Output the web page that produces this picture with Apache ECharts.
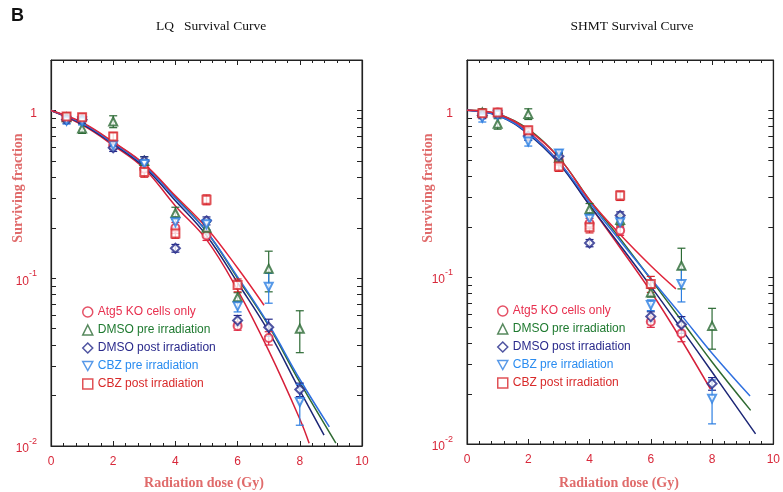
<!DOCTYPE html>
<html>
<head>
<meta charset="utf-8">
<script src="https://cdn.jsdelivr.net/npm/echarts@6/dist/echarts.min.js"></script>
<style>
  html, body { margin: 0; background: #fff; }
  #chart { width: 783px; height: 492px; }
</style>
</head>
<body>
<div id="chart"></div>
<script>
// measured doses (Gy)
const doses = [0.5, 1, 2, 3, 4, 5, 6, 7, 8]

const names = ['Atg5 KO cells only', 'DMSO pre irradiation', 'DMSO post irradiation', 'CBZ pre irradiation', 'CBZ post irradiation']
const colors = ['#de2640', '#2c6a34', '#23298a', '#2d7fe2', '#d8262c']
const textColors = ['#e8304f', '#1f7a30', '#2a2a8c', '#2a8cf0', '#d82a2a']

// LQ panel surviving fractions
const lqAtg5     = [0.90, 0.90, 0.62, 0.45, 0.20, 0.18, 0.052, 0.044, null]
const lqDmsoPre  = [0.91, 0.78, 0.86, 0.50, 0.245, 0.20, 0.077, 0.114, 0.050]
const lqDmsoPost = [0.88, 0.88, 0.60, 0.50, 0.151, 0.22, 0.056, 0.051, 0.0217]
const lqCbzPre   = [0.87, 0.86, 0.62, 0.48, 0.216, 0.21, 0.068, 0.089, 0.0183]
const lqCbzPost  = [0.92, 0.91, 0.70, 0.43, 0.185, 0.294, 0.091, null, null]

// SHMT panel surviving fractions
const shAtg5     = [0.95, 0.97, 0.74, 0.50, 0.21, 0.19, 0.054, 0.046, null]
const shDmsoPre  = [0.97, 0.83, 0.95, 0.52, 0.256, 0.22, 0.081, 0.117, 0.051]
const shDmsoPost = [0.93, 0.95, 0.70, 0.53, 0.16, 0.234, 0.058, 0.052, 0.023]
const shCbzPre   = [0.90, 0.94, 0.65, 0.55, 0.224, 0.213, 0.068, 0.091, 0.0187]
const shCbzPost  = [0.96, 0.97, 0.76, 0.46, 0.199, 0.308, 0.091, null, null]

// error bars (+/-)
const lqAtg5Err     = [0.04, 0.04, 0.03, 0.02, 0.015, 0.012, 0.003, 0.004, null]
const lqDmsoPreErr  = [0.05, 0.05, 0.07, 0.03, 0.02, 0.015, 0.005, 0.031, 0.014]
const lqDmsoPostErr = [0.04, 0.04, 0.03, 0.03, 0.008, 0.012, 0.004, 0.006, 0.002]
const lqCbzPreErr   = [0.04, 0.04, 0.03, 0.03, 0.015, 0.015, 0.005, 0.018, 0.005]
const lqCbzPostErr  = [0.05, 0.05, 0.04, 0.03, 0.012, 0.02, 0.008, null, null]

const shAtg5Err     = [0.04, 0.04, 0.03, 0.03, 0.015, 0.012, 0.004, 0.005, null]
const shDmsoPreErr  = [0.05, 0.06, 0.07, 0.03, 0.02, 0.015, 0.005, 0.032, 0.014]
const shDmsoPostErr = [0.04, 0.04, 0.04, 0.03, 0.008, 0.012, 0.004, 0.006, 0.002]
const shCbzPreErr   = [0.05, 0.04, 0.04, 0.03, 0.015, 0.015, 0.005, 0.02, 0.0055]
const shCbzPostErr  = [0.05, 0.05, 0.04, 0.03, 0.015, 0.02, 0.01, null, null]

// fitted curves: [dose, fraction]
const lqFitAtg5    = [[0,1],[1,0.82],[2,0.62],[3,0.45],[4,0.27],[5,0.17],[6,0.085],[7,0.037],[8,0.0145],[8.3,0.0104]]
const lqFitDmsoPre = [[0,1],[1,0.84],[2,0.645],[3,0.475],[4,0.305],[5,0.19],[6,0.1],[7,0.052],[8,0.024],[9.16,0.0104]]
const lqFitDmsoPost= [[0,1],[1,0.83],[2,0.63],[3,0.46],[4,0.29],[5,0.18],[6,0.094],[7,0.048],[8,0.0215],[8.78,0.0116]]
const lqFitCbzPre  = [[0,1],[1,0.84],[2,0.64],[3,0.47],[4,0.3],[5,0.19],[6,0.102],[7,0.053],[8,0.025],[8.95,0.013]]
const lqFitCbzPost = [[0,1],[1,0.85],[2,0.65],[3,0.48],[4,0.31],[5,0.2],[6,0.115],[6.85,0.069]]

const shFitAtg5    = [[0,1],[1,0.94],[2,0.74],[3,0.49],[4,0.27],[5,0.15],[6,0.082],[7,0.042],[7.95,0.0213]]
const shFitDmsoPre = [[0,1],[1,0.95],[2,0.77],[3,0.52],[4,0.29],[5,0.17],[6,0.097],[7,0.055],[8,0.031],[9.26,0.0159]]
const shFitDmsoPost= [[0,1],[1,0.93],[2,0.72],[3,0.48],[4,0.27],[5,0.155],[6,0.088],[7,0.049],[8,0.027],[9.42,0.0115]]
const shFitCbzPre  = [[0,1],[1,0.93],[2,0.73],[3,0.49],[4,0.28],[5,0.165],[6,0.098],[7,0.059],[8,0.035],[9.24,0.0194]]
const shFitCbzPost = [[0,1],[1,0.95],[2,0.76],[3,0.52],[4,0.29],[5,0.18],[6,0.117],[6.82,0.085]]

const fitColors = ['#d6203a', '#2f6a32', '#1c2676', '#2f70e0', '#e0243a']

const yTicks = [0.01,0.02,0.03,0.04,0.05,0.06,0.07,0.08,0.09,0.1,0.2,0.3,0.4,0.5,0.6,0.7,0.8,0.9,1,2]
const yLabels = [0.01, 0.1, 1]
const xLabels = [0, 2, 4, 6, 8, 10]

const symbols = ['emptyCircle', 'emptyTriangle', 'emptyDiamond', 'emptyTriangle', 'emptyRect']
const rotates = [0, 0, 0, 180, 0]
const icons = ['circle', 'triangle', 'diamond', 'path://M0,0L10,0L5,9Z', 'rect']

const chart = echarts.init(document.getElementById('chart'))

const labelRed = '#d8283a'
const titleRed = '#e06b6b'

function xAx(gi, pos) {
  return {
    type: 'value', gridIndex: gi, position: pos, min: 0, max: 10, interval: 2,
    axisLine: { show: true, onZero: false, lineStyle: { color: '#222', width: 1.2 } },
    axisTick: { show: true, inside: true, length: 5, lineStyle: { color: '#222' } },
    minorTick: { show: true, splitNumber: 5, length: 3, lineStyle: { color: '#222' } },
    axisLabel: { show: pos === 'bottom', color: labelRed, fontSize: 12, margin: 10, fontFamily: 'Liberation Sans',
      customValues: xLabels },
    splitLine: { show: false },
  }
}

function yAx(gi, pos) {
  return {
    type: 'log', logBase: 10, gridIndex: gi, position: pos, min: 0.01, max: 2,
    axisLine: { show: true, onZero: false, lineStyle: { color: '#222', width: 1.2 } },
    axisTick: { show: true, inside: true, length: 5, customValues: yTicks, lineStyle: { color: '#222' } },
    axisLabel: {
      show: pos === 'left', customValues: yLabels, margin: 14, color: labelRed, fontFamily: 'Liberation Sans',
      formatter: (v) => {
        const e = Math.round(Math.log10(v))
        return e === 0 ? '{b|1}' : '{b|10}{s|' + e + '}'
      },
      rich: {
        b: { fontSize: 12, color: labelRed, lineHeight: 18, verticalAlign: 'bottom' },
        s: { fontSize: 9, color: labelRed, lineHeight: 18, verticalAlign: 'top' },
      },
    },
    splitLine: { show: false },
    minorTick: { show: false },
  }
}

function pts(vals) {
  return doses.map((d, i) => vals[i] == null ? null : [d, vals[i]]).filter(Boolean)
}

function errSeries(vals, errs, color, gi) {
  const data = []
  vals.forEach((v, i) => { if (v != null && errs[i]) data.push([doses[i], v - errs[i], v + errs[i]]) })
  return {
    type: 'custom', xAxisIndex: gi * 2, yAxisIndex: gi * 2, data, z: 3, silent: true,
    encode: { x: 0, y: [1, 2] },
    renderItem(params, api) {
      const lo = api.coord([api.value(0), api.value(1)])
      const hi = api.coord([api.value(0), api.value(2)])
      const w = 4
      const st = { stroke: color, lineWidth: 1.2 }
      return {
        type: 'group', children: [
          { type: 'line', shape: { x1: lo[0], y1: lo[1], x2: hi[0], y2: hi[1] }, style: st },
          { type: 'line', shape: { x1: lo[0] - w, y1: lo[1], x2: lo[0] + w, y2: lo[1] }, style: st },
          { type: 'line', shape: { x1: hi[0] - w, y1: hi[1], x2: hi[0] + w, y2: hi[1] }, style: st },
        ],
      }
    },
  }
}

function panelSeries(gi, sets, errs, fits) {
  const out = []
  fits.forEach((f, i) => out.push({
    type: 'line', name: 'fit' + gi + i, xAxisIndex: gi * 2, yAxisIndex: gi * 2, data: f,
    smooth: 0.4, showSymbol: false, z: 2, silent: true,
    lineStyle: { color: fitColors[i], width: 1.5 },
  }))
  sets.forEach((s, i) => {
    out.push(errSeries(s, errs[i], colors[i], gi))
    out.push({
      type: 'scatter', name: names[i], xAxisIndex: gi * 2, yAxisIndex: gi * 2, data: pts(s),
      symbol: symbols[i], symbolRotate: rotates[i], symbolSize: i === 2 ? 9 : 8, z: 4,
      itemStyle: { color: colors[i], borderWidth: 1.5 },
    })
  })
  return out
}

function mkLegend(left, top) {
  return {
    left, top, orient: 'vertical', itemGap: 6, itemWidth: 10, itemHeight: 10, selectedMode: false,
    textStyle: { fontSize: 12, fontFamily: 'Liberation Sans' },
    data: names.map((n, i) => ({
      name: n, icon: icons[i],
      itemStyle: { color: 'transparent', borderColor: colors[i], borderWidth: 1.5 },
      textStyle: { color: textColors[i] },
    })),
  }
}

chart.setOption({
  animation: false,
  grid: [
    { left: 51, top: 60, width: 311, height: 386, show: true, borderColor: '#222', borderWidth: 1 },
    { left: 467, top: 60, width: 310, height: 384, show: true, borderColor: '#222', borderWidth: 1 },
  ],
  xAxis: [xAx(0, 'bottom'), xAx(0, 'top'), xAx(1, 'bottom'), xAx(1, 'top')],
  yAxis: [yAx(0, 'left'), yAx(0, 'right'), yAx(1, 'left'), yAx(1, 'right')],
  legend: [mkLegend(77, 301), mkLegend(492, 300)],
  series: [
    ...panelSeries(0,
      [lqAtg5, lqDmsoPre, lqDmsoPost, lqCbzPre, lqCbzPost],
      [lqAtg5Err, lqDmsoPreErr, lqDmsoPostErr, lqCbzPreErr, lqCbzPostErr],
      [lqFitAtg5, lqFitDmsoPre, lqFitDmsoPost, lqFitCbzPre, lqFitCbzPost]),
    ...panelSeries(1,
      [shAtg5, shDmsoPre, shDmsoPost, shCbzPre, shCbzPost],
      [shAtg5Err, shDmsoPreErr, shDmsoPostErr, shCbzPreErr, shCbzPostErr],
      [shFitAtg5, shFitDmsoPre, shFitDmsoPost, shFitCbzPre, shFitCbzPost]),
  ],
  graphic: [
    { type: 'text', x: 11, y: 7, style: { text: 'B', font: 'bold 18px "Liberation Sans"', fill: '#111' } },
    { type: 'text', x: 211, y: 26, style: { text: 'LQ   Survival Curve', font: '13.5px "Liberation Serif"', fill: '#111', align: 'center', verticalAlign: 'middle' } },
    { type: 'text', x: 632, y: 26, style: { text: 'SHMT Survival Curve', font: '13.5px "Liberation Serif"', fill: '#111', align: 'center', verticalAlign: 'middle' } },
    { type: 'text', x: 18, y: 188, rotation: Math.PI / 2, style: { text: 'Surviving fraction', font: 'bold 14px "Liberation Serif"', fill: titleRed, align: 'center', verticalAlign: 'middle' } },
    { type: 'text', x: 428, y: 188, rotation: Math.PI / 2, style: { text: 'Surviving fraction', font: 'bold 14px "Liberation Serif"', fill: titleRed, align: 'center', verticalAlign: 'middle' } },
    { type: 'text', x: 204, y: 483, style: { text: 'Radiation dose (Gy)', font: 'bold 14px "Liberation Serif"', fill: titleRed, align: 'center', verticalAlign: 'middle' } },
    { type: 'text', x: 619, y: 483, style: { text: 'Radiation dose (Gy)', font: 'bold 14px "Liberation Serif"', fill: titleRed, align: 'center', verticalAlign: 'middle' } },
  ],
})
</script>
</body>
</html>
